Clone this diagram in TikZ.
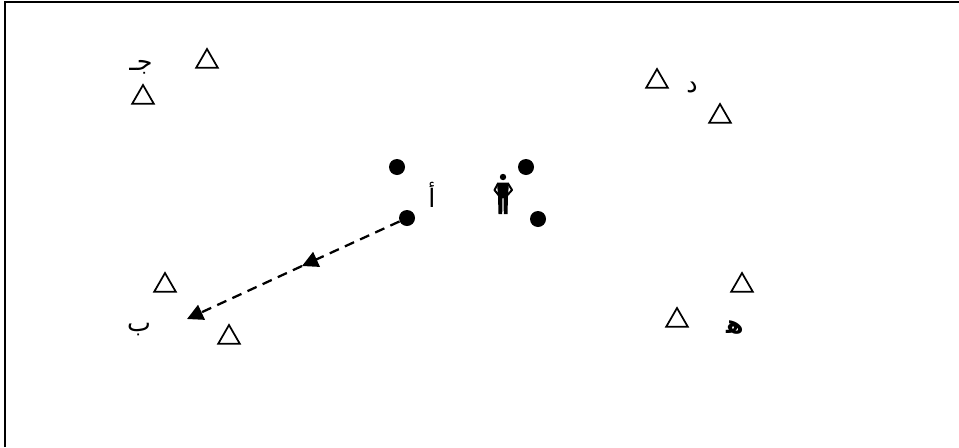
\documentclass[tikz,border=0pt]{standalone}
\usepackage{fontspec}
\usetikzlibrary{arrows.meta,shapes.geometric}
\TeXXeTstate=1
\newfontfamily\arabicfont[Script=Arabic]{DejaVu Sans}

\begin{document}
\begin{tikzpicture}[
  x=0.75pt, y=-0.75pt,
  cone/.style={draw, regular polygon, regular polygon sides=3, minimum size=18.7pt, inner sep=0pt, line width=1.3pt},
  player/.style={circle, fill=black, minimum size=12pt, inner sep=0pt},
  letter/.style={font=\arabicfont\fontsize{19}{22}\selectfont, inner sep=0pt},
  bigletter/.style={font=\arabicfont\bfseries\fontsize{19}{22}\selectfont, inner sep=0pt},
  run/.style={-{Triangle[length=12pt, width=12pt]}, line width=1.7pt, dash pattern=on 7.5pt off 5pt},
  frameline/.style={line width=1.5pt}
]
  \useasboundingbox (0,0) rectangle (959,447);
  \coordinate (framebl) at (5,447);
  \coordinate (frametl) at (5,2);
  \coordinate (frametr) at (959,2);
  \draw[frameline] (framebl) -- (frametl) -- (frametr);

  \node[cone] (c1) at (207,61.5) {};
  \node[cone] (c2) at (143,97.5) {};
  \node[cone] (b1) at (165,285.5) {};
  \node[cone] (b2) at (229,337.5) {};
  \node[cone] (d1) at (657,81.5) {};
  \node[cone] (d2) at (720,116.5) {};
  \node[cone] (e1) at (742,285.5) {};
  \node[cone] (e2) at (677,320.5) {};

  \node[player] (p1) at (397,167) {};
  \node[player] (p2) at (526,167) {};
  \node[player] (p3) at (407,218) {};
  \node[player] (p4) at (538,219) {};

  \node[letter] (alef) at (432,195) {\beginR أ\endR};
  \node[letter] (beh) at (139,330) {\beginR ب\endR};
  \node[letter] (jeem) at (141,67) {\beginR جـ\endR};
  \node[letter] (dal) at (692,87) {\beginR د\endR};
  \node[bigletter] (heh) at (735,327) {\beginR ه^^^^200d\endR};

  \coordinate (runmid) at (302,266);
  \coordinate (runend) at (187,319);
  \draw[run] (p3) -- (runmid);
  \draw[run] (runmid) -- (runend);

  \fill (503,177) circle (3.2);
  \fill (497,182.5) -- (509,182.5) -- (508,196) -- (507.5,214) -- (503.8,214) -- (503.5,198) -- (502.5,198) -- (502.2,214) -- (498.5,214) -- (498,196) -- cycle;
  \draw[line width=1.5pt, line join=round] (498,183.5) -- (494.5,190) -- (498.5,195);
  \draw[line width=1.5pt, line join=round] (508,183.5) -- (512,190) -- (507.5,195);
\end{tikzpicture}
\end{document}
